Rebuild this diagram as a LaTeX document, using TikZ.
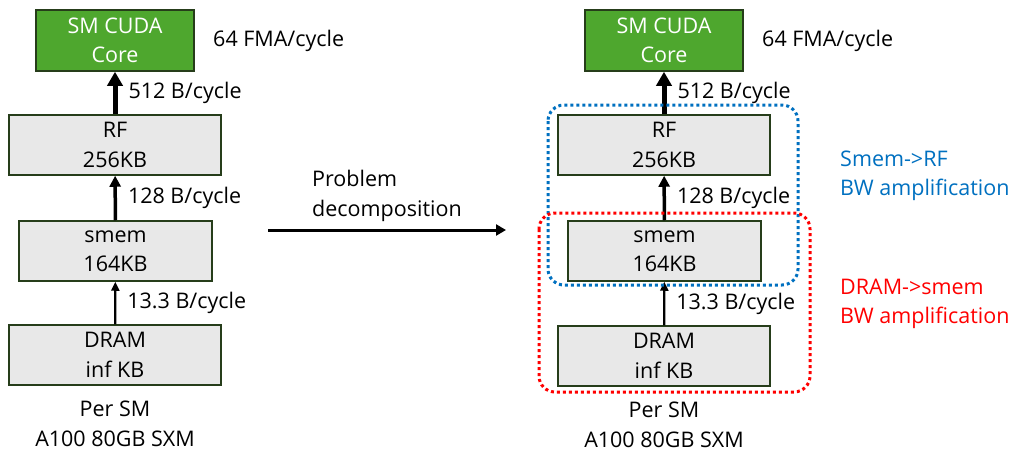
\documentclass[tikz,border=0pt]{standalone}
\usepackage{fontspec}
\setmainfont{Open Sans}
\usetikzlibrary{arrows.meta,positioning}
\definecolor{coregreen}{HTML}{4EA72E}
\definecolor{boxgray}{HTML}{E8E8E8}
\definecolor{boxline}{HTML}{263D1A}
\definecolor{ampblue}{HTML}{0070C0}
\definecolor{ampred}{HTML}{FF0000}
\tikzset{
  mem/.style = {draw=boxline,line width=1.5pt,fill=boxgray,align=center,
    minimum height=60pt,inner sep=0pt},
  core/.style = {mem,fill=coregreen,text=white,minimum width=158pt,minimum height=61pt},
  bw/.style = {right=11pt,inner sep=0pt},
  amp/.style = {dash pattern=on 3pt off 3pt,line width=3pt,rounded corners=16pt}
}
\tikzset{>=Triangle}

\begin{document}
\begin{tikzpicture}[x=1pt,y=-1pt,font=\fontsize{21.5pt}{29.5pt}\selectfont]
  \useasboundingbox (0,0) rectangle (1033,463);
  % left column
  \node[core] (core) at (115,40.5) {SM CUDA\\Core};
  \node[mem,minimum width=212pt] (rf) at (115,145) {RF\\256KB};
  \node[mem,minimum width=193pt] (smem) at (115.5,251) {smem\\164KB};
  \node[mem,minimum width=212pt] (dram) at (115,355) {DRAM\\inf KB};
  \node[anchor=west,inner sep=0pt] (fma) at (213,41) {64 FMA/cycle};
  \node[below=15pt of dram,align=center,inner sep=0pt] (sm) {Per SM\\A100 80GB SXM};
  % bandwidths
  \draw[-{Triangle[length=14pt,width=15pt]},line width=5pt] (rf) -- node[bw] (bwa) {512 B/cycle} (core);
  \draw[-{Triangle[length=11pt,width=11pt]},line width=3.5pt] (smem) -- node[bw] (bwb) {128 B/cycle} (rf);
  \draw[-{Triangle[length=9pt,width=8pt]},line width=2.2pt] (dram) -- node[bw] (bwc) {13.3 B/cycle} (smem);
  % decomposition
  \coordinate (ps) at (268,230);
  \coordinate (pe) at (506,230);
  \draw[-{Triangle[length=10pt,width=11pt]},line width=3pt] (ps) -- (pe);
  \node[anchor=west,align=left,inner sep=0pt] (prob) at (312,196) {Problem\\decomposition};
  % right column
  \node[core] (core2) at (664,40.5) {SM CUDA\\Core};
  \node[mem,minimum width=212pt] (rf2) at (664,145) {RF\\256KB};
  \node[mem,minimum width=193pt] (smem2) at (664.5,251) {smem\\164KB};
  \node[mem,minimum width=212pt] (dram2) at (664,356) {DRAM\\inf KB};
  \node[anchor=west,inner sep=0pt] (fma2) at (762,41) {64 FMA/cycle};
  \node[below=15pt of dram2,align=center,inner sep=0pt] (sm2) {Per SM\\A100 80GB SXM};
  \draw[-{Triangle[length=14pt,width=15pt]},line width=5pt] (rf2) -- node[bw] (bwa2) {512 B/cycle} (core2);
  \draw[-{Triangle[length=11pt,width=11pt]},line width=3.5pt] (smem2) -- node[bw] (bwb2) {128 B/cycle} (rf2);
  \draw[-{Triangle[length=9pt,width=8pt]},line width=2.2pt] (dram2) -- node[bw] (bwc2) {13.3 B/cycle} (smem2);
  % amplification
  \draw[amp,ampblue] (548,105) rectangle (798,285);
  \draw[amp,ampred] (539,213) rectangle (810,392);
  \node[anchor=west,align=left,inner sep=0pt,text=ampblue] (ampa) at (840,176) {Smem->RF\\BW amplification};
  \node[anchor=west,align=left,inner sep=0pt,text=ampred] (ampb) at (840,304) {DRAM->smem\\BW amplification};
\end{tikzpicture}
\end{document}
